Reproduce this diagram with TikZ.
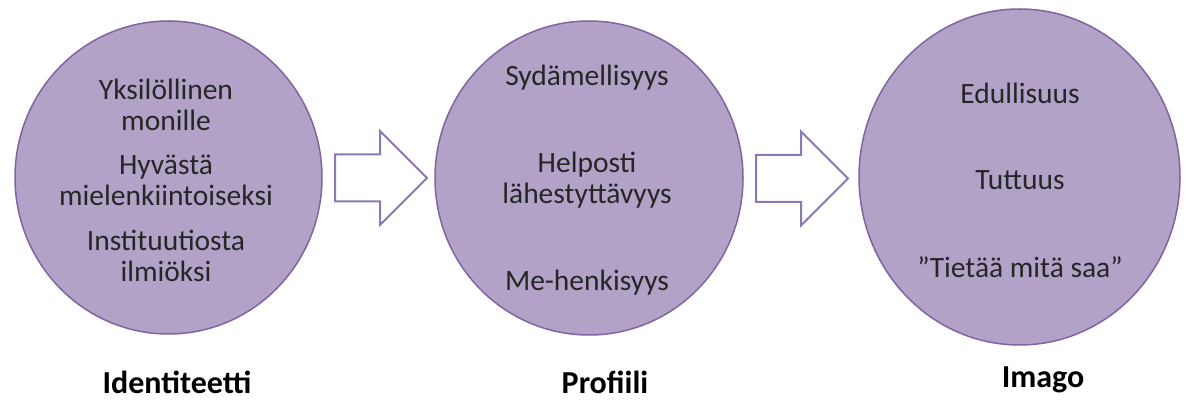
\documentclass[tikz,border=0pt]{standalone}
\usepackage{fontspec}
\setmainfont{Carlito}
\usetikzlibrary{shapes.geometric,shapes.arrows,positioning}
\definecolor{lila}{HTML}{B3A2C7}
\definecolor{lilareuna}{HTML}{8064A2}
\definecolor{nuolireuna}{HTML}{8C78B4}

\begin{document}
\begin{tikzpicture}[
  x=1pt, y=1pt,
  font=\fontsize{29.5}{31}\selectfont,
  pallo/.style={ellipse, draw=lilareuna, line width=1.5pt, fill=lila, inner sep=0pt},
  nuoli/.style={single arrow, draw=nuolireuna, line width=2pt, fill=white, inner xsep=0pt, inner ysep=22.5pt,
    minimum height=92pt, single arrow head extend=23.5pt, single arrow head indent=0pt, anchor=tail},
  teksti/.style={align=center, text=black!85},
  otsikko/.style={font=\fontsize{32}{34}\selectfont\bfseries}
]
  \useasboundingbox (0,0) rectangle (1187,407);
  \node[pallo, minimum width=307pt, minimum height=313pt] (c1) at (168.5,229.5) {};
  \node[pallo, minimum width=308pt, minimum height=314pt] (c2) at (589,229) {};
  \node[pallo, minimum width=321pt, minimum height=336pt] (c3) at (1019.5,230) {};
  \node[nuoli] (a1) at (334,229) {};
  \node[nuoli] (a2) at (755,228.5) {};
  \node[teksti] (t11) at (166,302) {Yksilöllinen\\monille};
  \node[teksti] (t12) at (166,227) {Hyvästä\\mielenkiintoiseksi};
  \node[teksti] (t13) at (166,151) {Instituutiosta\\ilmiöksi};
  \node[teksti] (t21) at (587,329) {Sydämellisyys};
  \node[teksti] (t22) at (587,227) {Helposti\\lähestyttävyys};
  \node[teksti] (t23) at (587,124) {Me-henkisyys};
  \node[teksti] (t31) at (1020,314) {Edullisuus};
  \node[teksti] (t32) at (1020,227) {Tuttuus};
  \node[teksti] (t33) at (1020,140) {”Tietää mitä saa”};
  \node[otsikko] (o1) at (177,25) {Identiteetti};
  \node[otsikko] (o2) at (605,25) {Profiili};
  \node[otsikko] (o3) at (1043,27) {Imago};
\end{tikzpicture}
\end{document}
